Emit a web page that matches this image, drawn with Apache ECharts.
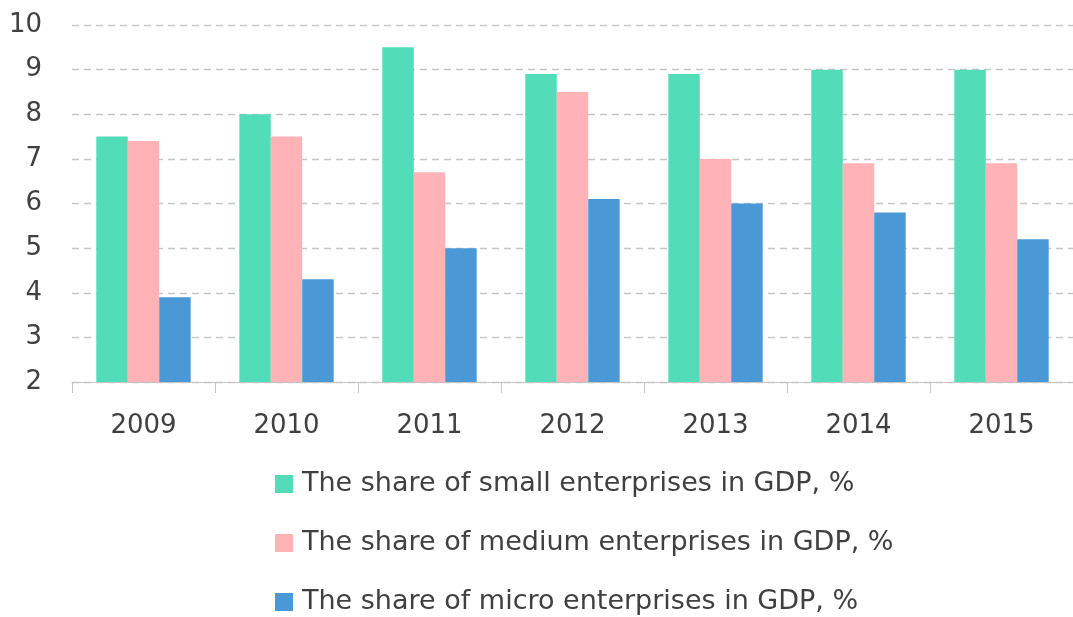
<!DOCTYPE html>
<html>
<head>
<meta charset="utf-8">
<script src="https://cdn.jsdelivr.net/npm/echarts@6/dist/echarts.min.js"></script>
<style>
  html, body { margin: 0; padding: 0; background: #ffffff; }
  #chart { width: 1073px; height: 617px; }
</style>
</head>
<body>
<div id="chart"></div>
<script>
// Share of enterprises in GDP by year, %
const years = ['2009', '2010', '2011', '2012', '2013', '2014', '2015'];
const smallShare = [7.5, 8.0, 9.5, 8.9, 8.9, 9.0, 9.0];
const mediumShare = [7.4, 7.5, 6.7, 8.5, 7.0, 6.9, 6.9];
const microShare = [3.9, 4.3, 5.0, 6.1, 6.0, 5.8, 5.2];
const seriesNames = [
  'The share of small enterprises in GDP, %',
  'The share of medium enterprises in GDP, %',
  'The share of micro enterprises in GDP, %'
];
const colors = ['#52dcb7', '#ffb3b6', '#4b98d6'];

const font = '"DejaVu Sans", "Open Sans", sans-serif';
const chart = echarts.init(document.getElementById('chart'));

function barSeries(name, data, color) {
  return {
    name: name,
    type: 'bar',
    data: data,
    barGap: '0%',
    barCategoryGap: '34%',
    itemStyle: { color: color },
    emphasis: { disabled: true }
  };
}

chart.setOption({
  animation: false,
  backgroundColor: '#ffffff',
  color: colors,
  grid: { left: 72, right: -8, top: 25, bottom: 235 },
  legend: {
    orient: 'vertical',
    left: 270,
    top: 461,
    height: 200,
    itemWidth: 18,
    itemHeight: 18,
    itemGap: 23,
    icon: 'rect',
    textStyle: { fontFamily: font, fontSize: 27, color: '#404040', lineHeight: 36, padding: [0, 0, 0, 4] },
    data: seriesNames
  },
  xAxis: {
    type: 'category',
    data: years,
    boundaryGap: true,
    axisLine: { show: true, lineStyle: { color: '#c4c4c4', width: 1 } },
    axisTick: { show: true, length: 11, lineStyle: { color: '#c4c4c4' } },
    axisLabel: { fontFamily: font, fontSize: 26, color: '#404040', margin: 31 }
  },
  yAxis: {
    type: 'value',
    min: 2,
    max: 10,
    interval: 1,
    axisLine: { show: false },
    axisTick: { show: false },
    axisLabel: { fontFamily: font, fontSize: 26, color: '#404040', margin: 30 },
    splitLine: { show: true, lineStyle: { color: '#c6c6c6', type: [7, 5], width: 1.4 } }
  },
  series: [
    barSeries(seriesNames[0], smallShare, colors[0]),
    barSeries(seriesNames[1], mediumShare, colors[1]),
    barSeries(seriesNames[2], microShare, colors[2])
  ]
});
</script>
</body>
</html>
